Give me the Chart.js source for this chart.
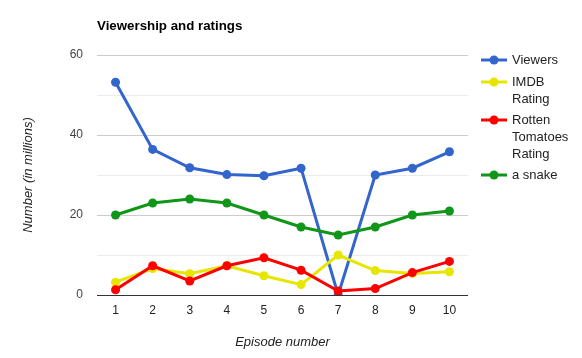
<!DOCTYPE html>
<html><head><meta charset="utf-8">
<script src="https://cdn.jsdelivr.net/npm/chart.js@4"></script>
<style>html,body{margin:0;padding:0;background:#fff}#wrap{width:582px;height:358px;position:relative}</style>
</head><body><div id="wrap"><canvas id="c" width="582" height="358"></canvas></div>
<script>
const chartTitle = "Viewership and ratings";
const episodes = ["1","2","3","4","5","6","7","8","9","10"];
const seriesNames = ["Viewers", "IMDB Rating", "Rotten Tomatoes Rating", "a snake"];
const legendLines = [["Viewers"], ["IMDB", "Rating"], ["Rotten", "Tomatoes", "Rating"], ["a snake"]];
const viewers = [53.2, 36.4, 31.8, 30.1, 29.8, 31.7, 0, 30, 31.7, 35.8];
const imdb = [3.2, 6.6, 5.3, 7.3, 4.8, 2.6, 10, 6.1, 5.4, 5.8];
const rotten = [1.3, 7.3, 3.5, 7.3, 9.3, 6.2, 1.0, 1.6, 5.6, 8.4];
const snake = [20, 23, 24, 23, 20, 17, 15, 17, 20, 21];
const colors = ["#3366cc", "#e6e600", "#ff0000", "#109618"];
const yTickLabels = [0, 20, 40, 60];
const yTitle = "Number (in millions)";
const xTitle = "Episode number";

const FONT = "Arial, 'Liberation Sans', sans-serif";
const allData = [viewers, imdb, rotten, snake];

const customPlugin = {
  id: 'custom',
  afterDraw(chart) {
    const ctx = chart.ctx;
    const a = chart.chartArea;
    ctx.save();
    ctx.fillStyle = '#000';
    ctx.font = 'bold 13.3px ' + FONT;
    ctx.textBaseline = 'middle';
    ctx.textAlign = 'left';
    ctx.fillText(chartTitle, a.left, 26);
    // legend
    const ys = [60, 82, 120, 175];
    ctx.font = '13px ' + FONT;
    legendLines.forEach((lines, i) => {
      const y = ys[i];
      ctx.strokeStyle = colors[i];
      ctx.lineWidth = 3;
      ctx.beginPath();
      ctx.moveTo(481, y); ctx.lineTo(507, y); ctx.stroke();
      ctx.fillStyle = colors[i];
      ctx.beginPath(); ctx.arc(494, y, 4.5, 0, Math.PI*2); ctx.fill();
      ctx.fillStyle = '#222';
      lines.forEach((t, j) => ctx.fillText(t, 512, y + j*17));
    });
    ctx.restore();
  }
};

new Chart(document.getElementById('c'), {
  type: 'line',
  data: {
    labels: episodes,
    datasets: allData.map((d, i) => ({
      label: seriesNames[i],
      data: d,
      borderColor: colors[i],
      backgroundColor: colors[i],
      borderWidth: 3,
      pointRadius: 4.5,
      pointHoverRadius: 4.5,
      pointBorderWidth: 0,
      tension: 0
    })).reverse()
  },
  options: {
    responsive: false,
    animation: false,
    events: [],
    layout: { padding: { left: 17, right: 114, top: 55, bottom: 0 } },
    plugins: { legend: { display: false }, title: { display: false }, tooltip: { enabled: false } },
    scales: {
      x: {
        offset: true,
        grid: { display: false, drawTicks: false },
        border: { display: false },
        ticks: { color: '#222', font: { family: FONT, size: 12 }, padding: 8, maxRotation: 0 },
        title: { display: true, text: xTitle, color: '#222', font: { family: FONT, size: 13, style: 'italic' }, padding: { top: 4, bottom: 8 } },
        afterFit(s) { s.height = 63; }
      },
      y: {
        min: 0, max: 60,
        ticks: {
          stepSize: 10,
          color: '#444',
          font: { family: FONT, size: 12 },
          padding: 14,
          callback: (v) => yTickLabels.includes(v) ? String(v) : ''
        },
        grid: {
          drawTicks: false,
          color: (c) => c.tick.value === 0 ? '#333' : (c.tick.value % 20 === 0 ? '#cccccc' : '#ebebeb'),
          lineWidth: 1
        },
        border: { display: false },
        title: { display: true, text: yTitle, color: '#222', font: { family: FONT, size: 13, style: 'italic' } },
        afterFit(s) { s.width = 80; }
      }
    }
  },
  plugins: [customPlugin]
});
</script></body></html>
